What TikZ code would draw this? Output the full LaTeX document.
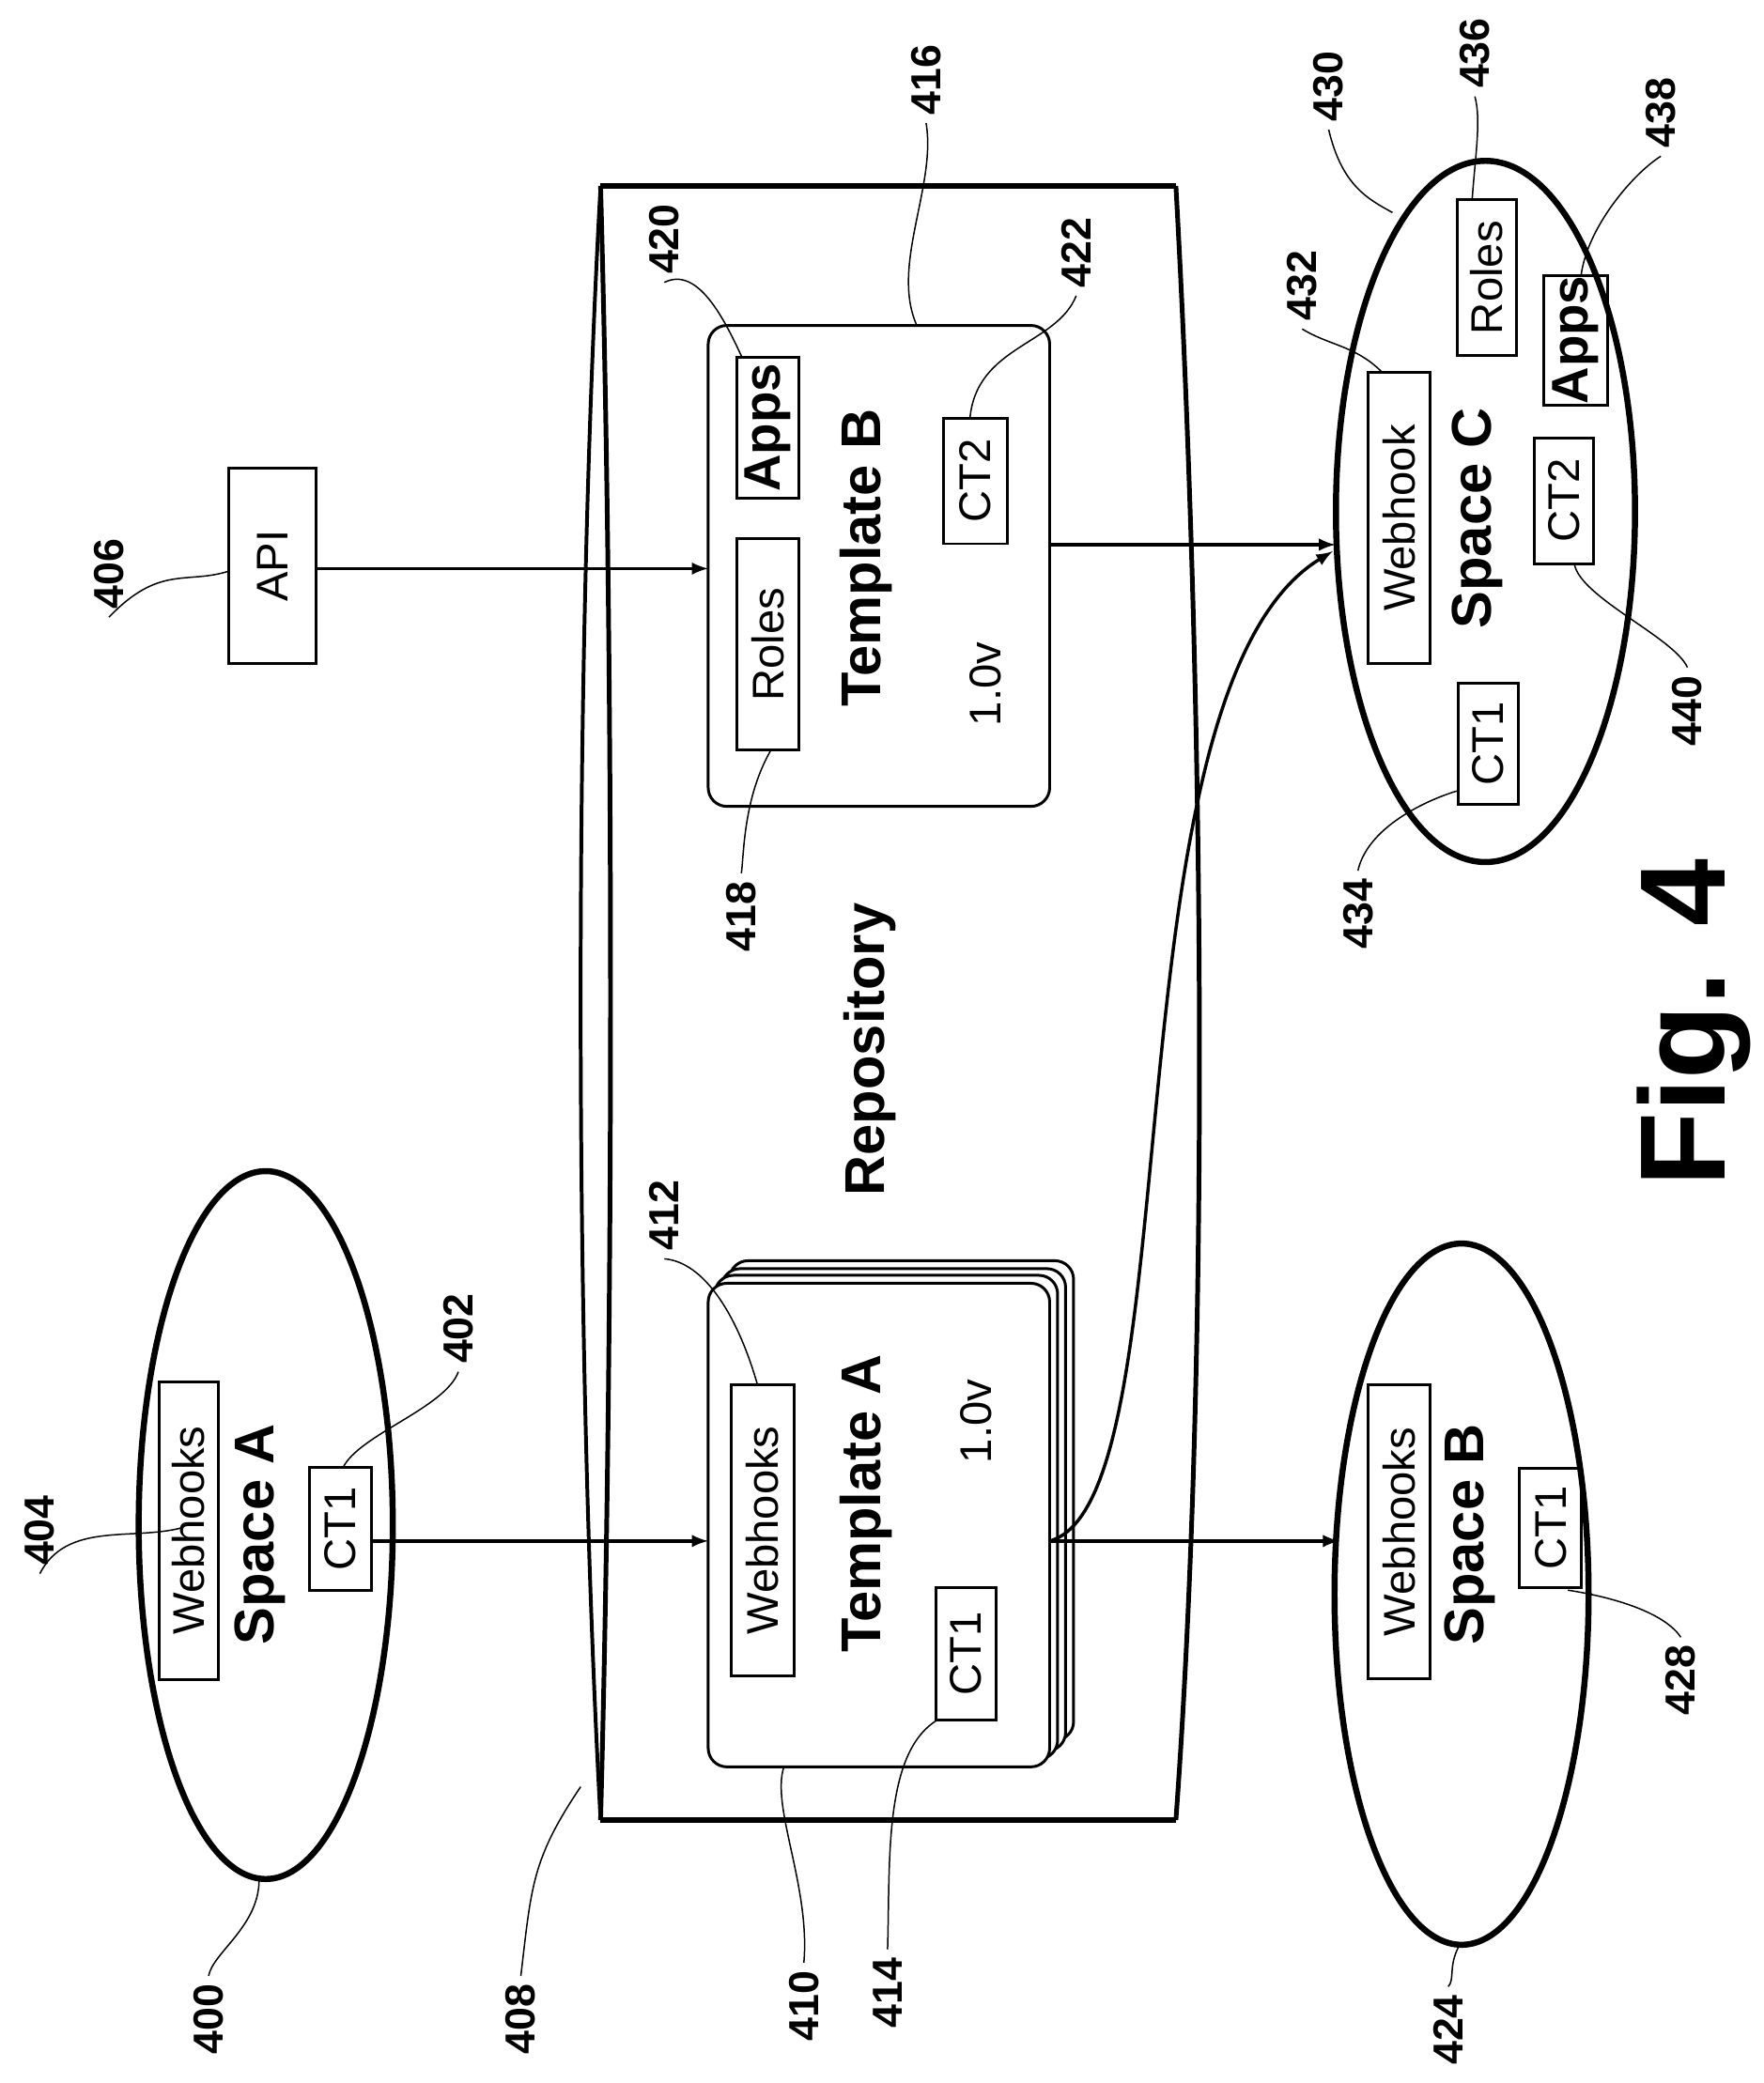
\documentclass[tikz,border=0pt]{standalone}
\usepackage{fontspec}
\setmainfont{Liberation Sans}
\usetikzlibrary{shapes.geometric}
\def\U{*0.5669pt}
\begin{document}
\begin{tikzpicture}[x=0.02cm,y=-0.02cm,
 box/.style={draw,line width=1.2pt,inner sep=0pt},
 rbox/.style={draw,line width=1.2pt,rounded corners=8pt,fill=white},
 t/.style={rotate=90,font=\fontsize{19}{19}\selectfont},
 tb/.style={rotate=90,font=\fontsize{24}{24}\selectfont\bfseries},
 num/.style={rotate=90,font=\fontsize{18}{18}\selectfont\bfseries},
 lead/.style={line width=0.6pt},
 arr/.style={line width=1.4pt,-latex},
 ell/.style={draw,line width=2.6pt,ellipse,inner sep=0pt}]
\useasboundingbox (0,0) rectangle (1327,1568);
% cylinder
\draw[line width=2.6pt] (452,140) -- (885,140) (452,1370) -- (885,1370);
\draw[line width=2pt] (885,140) .. controls (905,500) and (912,1000) .. (885,1370);
\draw[line width=1.6pt] (452,140) .. controls (432,500) and (432,1000) .. (452,1370);
\draw[line width=2pt] (452,140) .. controls (462,500) and (462,1000) .. (452,1370);
\node[tb] (repo) at (655,790) {Repository};
% Space A
\node[ell,minimum width=192\U,minimum height=535\U] (spA) at (200,1148) {};
\node[box,minimum width=225\U,minimum height=45\U,rotate=90] (whA) at (142,1152) {}; \node[t] at (whA) {Webhooks};
\node[tb] (sA) at (196,1155) {Space A};
\node[box,minimum width=93\U,minimum height=47\U,rotate=90] (ct1A) at (256,1151) {}; \node[t] at (ct1A) {CT1};
% API
\node[box,minimum width=148\U,minimum height=66\U,rotate=90] (api) at (205,426) {}; \node[t] at (api) {API};
% Template A stack
\draw[rbox] (549,949) rectangle (808,1310);
\draw[rbox] (543,955) rectangle (802,1318);
\draw[rbox] (538,960) rectangle (796,1324);
\draw[rbox] (533,966) rectangle (790,1330);
\node[box,minimum width=220\U,minimum height=48\U,rotate=90] (whTA) at (574,1152) {}; \node[t] at (whTA) {Webhooks};
\node[tb] at (652,1132) {Template A};
\node[t] at (735,1070) {1.0v};
\node[box,minimum width=100\U,minimum height=45\U,rotate=90] (ct1TA) at (727,1245) {}; \node[t] at (ct1TA) {CT1};
% Template B
\draw[rbox] (533,245) rectangle (790,607);
\node[box,minimum width=160\U,minimum height=47\U,rotate=90] (rolesB) at (578,485) {}; \node[t] at (rolesB) {Roles};
\node[box,minimum width=107\U,minimum height=47\U,rotate=90] (appsB) at (578,322) {}; \node[tb,font=\fontsize{22}{22}\selectfont\bfseries] at (appsB) {Apps};
\node[tb] at (652,420) {Template B};
\node[t] at (742,515) {1.0v};
\node[box,minimum width=95\U,minimum height=48\U,rotate=90] (ct2B) at (734,362) {}; \node[t] at (ct2B) {CT2};
% Space B
\node[ell,minimum width=192\U,minimum height=530\U] (spB) at (1100,1200) {};
\node[box,minimum width=222\U,minimum height=47\U,rotate=90] (whB) at (1053,1153) {}; \node[t] at (whB) {Webhooks};
\node[tb] at (1106,1155) {Space B};
\node[box,minimum width=90\U,minimum height=47\U,rotate=90] (ct1B) at (1167,1150) {}; \node[t] at (ct1B) {CT1};
% Space C
\node[ell,minimum width=226\U,minimum height=530\U] (spC) at (1118,385) {};
\node[box,minimum width=220\U,minimum height=47\U,rotate=90] (whC) at (1053,390) {}; \node[t] at (whC) {Webhook};
\node[tb] at (1112,390) {Space C};
\node[box,minimum width=92\U,minimum height=45\U,rotate=90] (ct1C) at (1120,560) {}; \node[t] at (ct1C) {CT1};
\node[box,minimum width=95\U,minimum height=45\U,rotate=90] (ct2C) at (1177,377) {}; \node[t] at (ct2C) {CT2};
\node[box,minimum width=118\U,minimum height=45\U,rotate=90] (rolesC) at (1119,209) {}; \node[t] at (rolesC) {Roles};
\node[box,minimum width=98\U,minimum height=48\U,rotate=90] (appsC) at (1186,256) {}; \node[tb,font=\fontsize{22}{22}\selectfont\bfseries] at (appsC) {Apps};
\node[rotate=90,font=\fontsize{52}{52}\selectfont\bfseries] (fig) at (1275,770) {Fig. 4};
% arrows
\coordinate (a1) at (790,1160);
\coordinate (a2) at (790,410);
\coordinate (ct1Ae) at (280,1160);
\draw[arr] (ct1Ae) -- (533,1160);
\draw[arr] (238,428) -- (533,428);
\draw[arr] (a1) -- (1008,1160);
\draw[arr] (a2) -- (1005,410);
\draw[arr] (a1) .. controls (900,1130) and (830,520) .. (1003,415);
% numbers and leaders
\node[num] (n400) at (157,1520) {400}; \draw[lead] (n400.east) .. controls (160,1470) and (195,1450) .. (195,1415);
\node[num] (n408) at (392,1520) {408}; \draw[lead] (n408.east) .. controls (400,1420) and (400,1400) .. (437,1345);
\node[num] (n410) at (605,1510) {410}; \draw[lead] (n410.east) .. controls (610,1420) and (580,1360) .. (590,1330);
\node[num] (n414) at (668,1500) {414}; \draw[lead] (n414.east) .. controls (670,1400) and (665,1320) .. (705,1295);
\node[num] (n424) at (1090,1528) {424}; \draw[lead] (n424.east) .. controls (1095,1490) and (1090,1480) .. (1098,1465);
\node[num] (n428) at (1265,1265) {428}; \draw[lead] (n428.east) .. controls (1250,1210) and (1200,1200) .. (1180,1197);
\node[num] (n404) at (30,1152) {404}; \draw[lead] (n404.west) .. controls (50,1145) and (100,1160) .. (137,1150);
\node[num] (n402) at (345,1000) {402}; \draw[lead] (n402.west) .. controls (335,1060) and (270,1080) .. (258,1105);
\node[num] (n406) at (82,432) {406}; \draw[lead] (n406.west) .. controls (120,425) and (140,440) .. (172,430);
\node[num] (n412) at (500,915) {412}; \draw[lead] (n412.west) .. controls (530,950) and (555,990) .. (570,1042);
\node[num] (n416) at (697,60) {416}; \draw[lead] (n416.west) .. controls (705,140) and (670,200) .. (690,245);
\node[num] (n420) at (500,180) {420}; \draw[lead] (n420.west) .. controls (525,200) and (545,240) .. (558,268);
\node[num] (n422) at (810,190) {422}; \draw[lead] (n422.west) .. controls (795,260) and (735,260) .. (730,315);
\node[num] (n418) at (558,690) {418}; \draw[lead] (n418.east) .. controls (560,640) and (560,600) .. (580,565);
\node[num] (n430) at (1000,65) {430}; \draw[lead] (n430.west) .. controls (1010,140) and (1030,150) .. (1048,160);
\node[num] (n436) at (1110,40) {436}; \draw[lead] (n436.west) .. controls (1115,90) and (1110,120) .. (1108,150);
\node[num] (n438) at (1250,85) {438}; \draw[lead] (n438.west) .. controls (1230,130) and (1195,170) .. (1190,207);
\node[num] (n432) at (980,215) {432}; \draw[lead] (n432.west) .. controls (1000,260) and (1020,260) .. (1040,280);
\node[num] (n434) at (1022,688) {434}; \draw[lead] (n434.east) .. controls (1030,620) and (1080,600) .. (1098,595);
\node[num] (n440) at (1270,535) {440}; \draw[lead] (n440.east) .. controls (1260,480) and (1190,450) .. (1185,425);
\end{tikzpicture}
\end{document}
